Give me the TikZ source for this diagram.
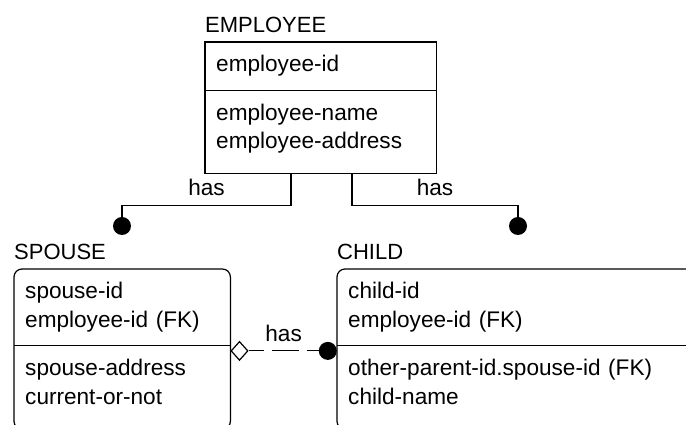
\documentclass[tikz,border=0pt]{standalone}
\usepackage{fontspec}
\setmainfont{Liberation Sans}
\usepackage{tikz}
\usetikzlibrary{shapes.geometric, arrows.meta, positioning, calc}
\tikzstyle{entityname} = [anchor=base west, inner sep=0pt, font=\fontsize{22}{28.5}\selectfont]
\tikzstyle{attrpart} = [anchor=north west, align=left, inner xsep=11pt, inner ysep=13.5pt, text height=16pt, font=\fontsize{22.6}{28.5}\selectfont]
\tikzstyle{entityframe} = [line width=1.2pt]
\tikzstyle{idrel} = [line width=1.2pt]
\tikzstyle{nonidrel} = [line width=1.2pt, dash pattern=on 27pt off 8pt, dash phase=12pt]
\tikzstyle{reldot} = [circle, fill=black, minimum size=18pt, inner sep=0pt]
\tikzstyle{reldiamond} = [diamond, draw, line width=1.2pt, fill=white, minimum width=17pt, minimum height=19pt, inner sep=0pt]
\tikzstyle{rellabel} = [above=9pt, inner sep=0pt, font=\fontsize{22.6}{28.5}\selectfont]

\begin{document}
\begin{tikzpicture}[x=1pt, y=1pt]
  \useasboundingbox (0,0) rectangle (686,425);
  \fill[white] (0,0) rectangle (686,425);
  \clip (0,0) rectangle (686,425);

  % EMPLOYEE
  \node[attrpart, text width=209pt, text depth=5pt] (emp-key) at (205,383) {employee-id};
  \node[attrpart, text width=209pt, text depth=40pt] (emp-attr) at (emp-key.south west) {employee-name\\employee-address};
  \draw[entityframe] (emp-key.north west) rectangle (emp-attr.south east);
  \draw[entityframe] (emp-key.south west) -- (emp-key.south east);
  \node[entityname] (emp-name) at ([yshift=9pt]emp-key.north west) {EMPLOYEE};

  % SPOUSE
  \node[attrpart, text width=194pt, text depth=33.5pt] (sp-key) at (14,156) {spouse-id\\employee-id (FK)};
  \node[attrpart, text width=194pt, text depth=40pt] (sp-attr) at (sp-key.south west) {spouse-address\\current-or-not};
  \draw[entityframe, rounded corners=8pt] (sp-key.north west) rectangle (sp-attr.south east);
  \draw[entityframe] (sp-key.south west) -- (sp-key.south east);
  \node[entityname] (sp-name) at ([yshift=9pt]sp-key.north west) {SPOUSE};

  % CHILD
  \node[attrpart, text width=338pt, text depth=33.5pt] (ch-key) at (337,156) {child-id\\employee-id (FK)};
  \node[attrpart, text width=338pt, text depth=40pt] (ch-attr) at (ch-key.south west) {other-parent-id.spouse-id (FK)\\child-name};
  \draw[entityframe, rounded corners=8pt] (ch-key.north west) rectangle (ch-attr.south east);
  \draw[entityframe] (ch-key.south west) -- (ch-key.south east);
  \node[entityname] (ch-name) at ([yshift=9pt]ch-key.north west) {CHILD};

  % EMPLOYEE -> SPOUSE, EMPLOYEE -> CHILD
  \node[reldot] (sp-dot) at (122,199) {};
  \node[reldot] (ch-dot) at (518,199) {};
  \draw[idrel] ([xshift=86pt]emp-attr.south west) -- ++(0,-32) -| node[pos=0.25, rellabel]{has} (sp-dot);
  \draw[idrel] ([xshift=147pt]emp-attr.south west) -- ++(0,-32) -| node[pos=0.25, rellabel]{has} (ch-dot);

  % SPOUSE -> CHILD (non-identifying)
  \node[reldiamond, anchor=west] (sp-dia) at ([yshift=-5pt]sp-key.south east) {};
  \node[reldot, anchor=east] (ch-pdot) at (ch-key.west |- sp-dia) {};
  \draw[nonidrel] (sp-dia) -- node[rellabel]{has} (ch-pdot);
\end{tikzpicture}
\end{document}
